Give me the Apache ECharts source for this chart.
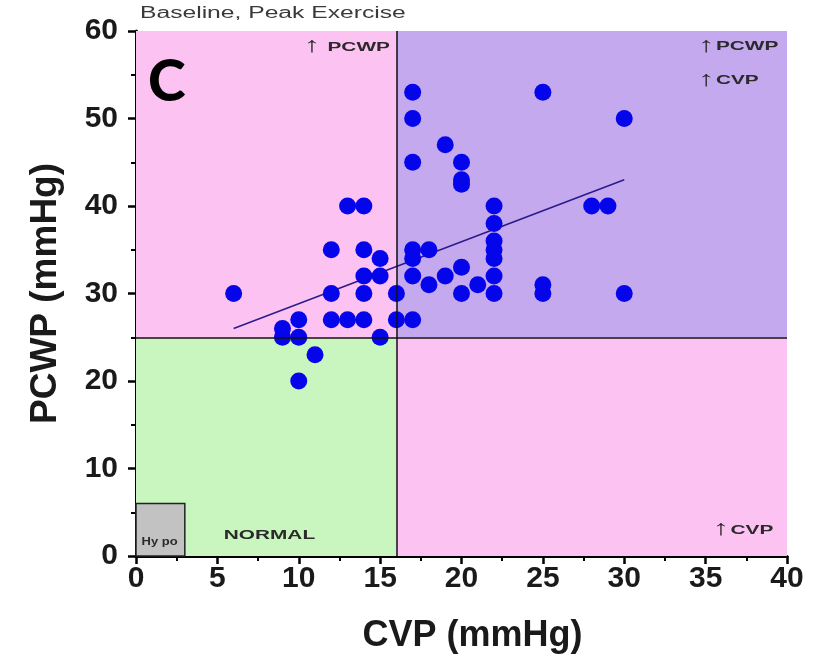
<!DOCTYPE html>
<html>
<head>
<meta charset="utf-8">
<script src="https://cdn.jsdelivr.net/npm/echarts@6/dist/echarts.min.js"></script>
<style>
html, body { margin: 0; padding: 0; background: #fff; }
#chart { width: 819px; height: 666px; }
</style>
</head>
<body>
<div id="chart"></div>
<script>
// CVP (x) and PCWP (y) per patient
var cvp  = [6, 9, 9, 10, 10, 10, 11, 12, 12, 12, 13, 13, 14, 14, 14, 14, 14, 15, 15, 15, 16, 16,
            17, 17, 17, 17, 17, 17, 17, 18, 18, 19, 19, 20, 20, 20, 20, 20, 21,
            22, 22, 22, 22, 22, 22, 22, 25, 25, 25, 28, 29, 30, 30];
var pcwp = [30, 26, 25, 27, 25, 20, 23, 35, 30, 27, 40, 27, 40, 35, 32, 30, 27, 34, 32, 25, 30, 27,
            53, 50, 45, 35, 34, 32, 27, 35, 31, 47, 32, 45, 43, 42.5, 33, 30, 31,
            40, 38, 36, 35, 34, 32, 30, 53, 31, 30, 40, 40, 50, 30];

// regression line end points
var fitX = [6, 30];
var fitY = [26, 43];

// quadrant thresholds
var cvpCut = 16;
var pcwpCut = 25;

var xTicks = [0, 5, 10, 15, 20, 25, 30, 35, 40];
var yTicks = [0, 10, 20, 30, 40, 50, 60];

// region notes: text, data position, alignment
var noteText  = ['↑ PCWP', '↑PCWP', '↑CVP', '↑CVP', 'NORMAL', 'Hy po'];
var noteX     = [15.6, 34.5, 34.5, 35.4, 8.2, 1.45];
var noteY     = [58.1, 58.2, 54.3, 2.9, 2.4, 1.6];
var noteAlign = ['right', 'left', 'left', 'left', 'center', 'center'];

var points = cvp.map(function (v, i) { return [v, pcwp[i]]; });

var axisFont = 'Liberation Sans, Arial';

var option = {
    animation: false,
    grid: { left: 136, right: 32, top: 31, bottom: 110 },
    xAxis: {
        type: 'value',
        min: xTicks[0],
        max: xTicks[xTicks.length - 1],
        interval: 5,
        name: 'CVP (mmHg)',
        nameLocation: 'middle',
        nameGap: 62,
        nameTextStyle: { fontFamily: axisFont, fontWeight: 'bold', fontSize: 36, color: '#1a1a1a', padding: [0, 0, 0, 22] },
        axisLine: { lineStyle: { color: '#000', width: 3 } },
        axisTick: { inside: false, length: 8, lineStyle: { color: '#000', width: 2.5 } },
        minorTick: { show: true, splitNumber: 2, length: 5, lineStyle: { color: '#000', width: 2 } },
        axisLabel: { margin: 8, fontFamily: axisFont, fontWeight: 'bold', fontSize: 30, color: '#1a1a1a' },
        splitLine: { show: false }
    },
    yAxis: {
        type: 'value',
        min: yTicks[0],
        max: yTicks[yTicks.length - 1],
        interval: 10,
        name: 'PCWP (mmHg)',
        nameLocation: 'middle',
        nameGap: 72,
        nameTextStyle: { fontFamily: axisFont, fontWeight: 'bold', fontSize: 37, color: '#1a1a1a' },
        axisLine: { lineStyle: { color: '#000', width: 3 } },
        axisTick: { inside: false, length: 8, lineStyle: { color: '#000', width: 2.5 } },
        minorTick: { show: true, splitNumber: 2, length: 5, lineStyle: { color: '#000', width: 2 } },
        axisLabel: { margin: 18, fontFamily: axisFont, fontWeight: 'bold', fontSize: 30, color: '#1a1a1a' },
        splitLine: { show: false }
    },
    series: [
        {
            // background quadrants
            type: 'scatter',
            data: [],
            silent: true,
            z: 1,
            markArea: {
                silent: true,
                data: [
                    [{ coord: [0, pcwpCut], itemStyle: { color: '#fcc3f2' } }, { coord: [cvpCut, 60] }],
                    [{ coord: [cvpCut, pcwpCut], itemStyle: { color: '#c4a9ee' } }, { coord: [40, 60] }],
                    [{ coord: [0, 0], itemStyle: { color: '#c9f6be' } }, { coord: [cvpCut, pcwpCut] }],
                    [{ coord: [cvpCut, 0], itemStyle: { color: '#fcc3f2' } }, { coord: [40, pcwpCut] }]
                ]
            }
        },
        {
            // hypovolemic box and quadrant dividers
            type: 'scatter',
            data: [],
            silent: true,
            z: 2,
            markArea: {
                silent: true,
                itemStyle: { color: '#c2c2c2', borderColor: '#222', borderWidth: 1.5 },
                label: { show: false },
                data: [[{ coord: [0, 0] }, { coord: [3, 6] }]]
            },
            markLine: {
                silent: true,
                symbol: 'none',
                label: { show: false },
                lineStyle: { color: '#111', width: 1.5, type: 'solid' },
                data: [
                    { xAxis: cvpCut },
                    { yAxis: pcwpCut }
                ]
            }
        },
        {
            type: 'line',
            data: [[fitX[0], fitY[0]], [fitX[1], fitY[1]]],
            symbol: 'none',
            z: 3,
            lineStyle: { color: '#2a1a8c', width: 1.5 }
        },
        {
            type: 'scatter',
            data: points,
            symbol: 'circle',
            symbolSize: 17,
            z: 4,
            itemStyle: { color: '#0505ec', opacity: 1 }
        }
    ]
};

var myChart = echarts.init(document.getElementById('chart'));
myChart.setOption(option);

// annotation texts placed through the grid's coordinate system
var graphics = [
    {
        type: 'text',
        x: 140,
        y: 6,
        scaleX: 1.54,
        style: {
            text: 'Baseline, Peak Exercise',
            font: '16px "Liberation Sans", Arial',
            fill: '#3a3a3a'
        }
    },
    {
        type: 'text',
        x: 148,
        y: 54,
        z: 10,
        style: {
            text: 'C',
            font: '900 57px Lato, "Open Sans", sans-serif',
            fill: '#000'
        }
    }
];

noteText.forEach(function (t, i) {
    var p = myChart.convertToPixel({ gridIndex: 0 }, [noteX[i], noteY[i]]);
    var hasArrow = t.charAt(0) === '↑';
    var small = t === 'Hy po';
    graphics.push({
        type: 'text',
        x: p[0],
        y: p[1],
        z: 10,
        scaleX: small ? 1.3 : 1.6,
        style: {
            text: hasArrow ? '{a|↑}{b|' + t.slice(1) + '}' : '{b|' + t + '}',
            align: noteAlign[i],
            verticalAlign: 'middle',
            rich: {
                a: { fontFamily: 'Liberation Sans', fontSize: 21, fill: '#2a2a2a', padding: [0, 1, 2, 0] },
                b: { fontFamily: axisFont, fontWeight: 'bold', fontSize: small ? 10 : 13, fill: '#2a2a2a' }
            }
        }
    });
});

myChart.setOption({ graphic: graphics });
</script>
</body>
</html>
